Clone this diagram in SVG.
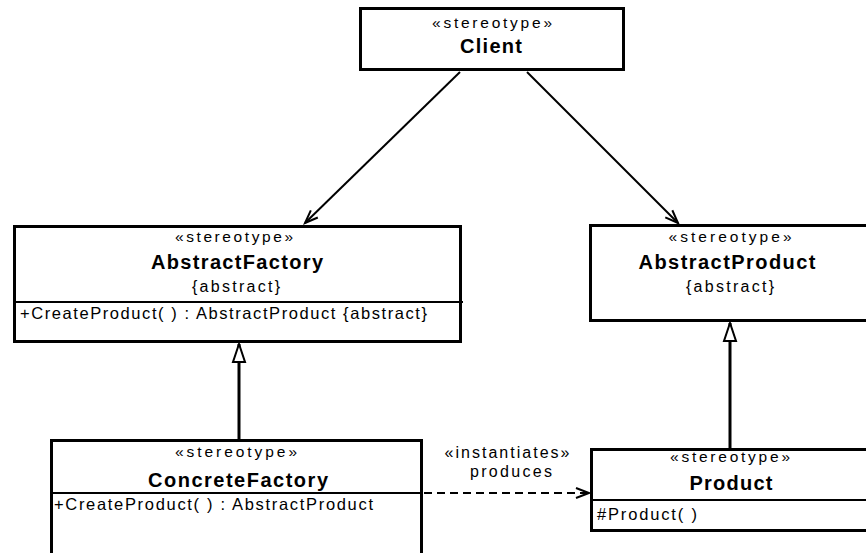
<svg xmlns="http://www.w3.org/2000/svg" width="866" height="553" viewBox="0 0 866 553">
<defs>
<style>
.box{fill:#fff;stroke:#000;stroke-width:3}
.div{stroke:#000;stroke-width:2}
.st{font-family:"Liberation Sans",Arial,sans-serif;font-size:15.5px;text-anchor:middle;fill:#000}
.nm{font-family:"Liberation Sans",Arial,sans-serif;font-size:20px;font-weight:bold;text-anchor:middle;fill:#000}
.ab{font-family:"Liberation Sans",Arial,sans-serif;font-size:16px;text-anchor:middle;fill:#000}
.op{font-family:"Liberation Sans",Arial,sans-serif;font-size:16.5px;fill:#000}
.lbl{font-family:"Liberation Sans",Arial,sans-serif;font-size:16px;text-anchor:middle;fill:#000}
.assoc{stroke:#000;stroke-width:2;fill:none}
.gen{stroke:#000;stroke-width:3;fill:none}
.dep{stroke:#000;stroke-width:2;fill:none;stroke-dasharray:8 5}
</style>
<marker id="open" markerUnits="userSpaceOnUse" markerWidth="20" markerHeight="20" viewBox="-16 -10 20 20" refX="0" refY="0" orient="auto">
<path d="M -13 -5 L 0 0 L -13 5" fill="none" stroke="#000" stroke-width="2"/>
</marker>
<marker id="tri" markerUnits="userSpaceOnUse" markerWidth="24" markerHeight="20" viewBox="-22 -10 24 20" refX="0" refY="0" orient="auto">
<path d="M 0 0 L -18 -6 L -18 6 Z" fill="#fff" stroke="#000" stroke-width="2"/>
</marker>
</defs>
<rect width="866" height="553" fill="#fff"/>

<g id="connectors">
<line class="assoc" x1="460" y1="72" x2="305" y2="223" marker-end="url(#open)"/>
<line class="assoc" x1="527" y1="72" x2="678" y2="223" marker-end="url(#open)"/>
<line class="gen" x1="239" y1="439" x2="239" y2="344" marker-end="url(#tri)"/>
<line class="gen" x1="730" y1="448" x2="730" y2="323" marker-end="url(#tri)"/>
<line class="dep" x1="424" y1="493" x2="589" y2="493" marker-end="url(#open)"/>
<text class="lbl" x="507" y="458" textLength="125" lengthAdjust="spacing">«instantiates»</text>
<text class="lbl" x="511" y="477" textLength="82" lengthAdjust="spacing">produces</text>
</g>

<g id="client">
<rect class="box" x="360.5" y="8.5" width="263" height="61"/>
<text class="st" x="492" y="28" textLength="120" lengthAdjust="spacing">«stereotype»</text>
<text class="nm" x="491" y="53" textLength="62" lengthAdjust="spacing">Client</text>
</g>

<g id="abstractfactory">
<rect class="box" x="14.5" y="226.5" width="446" height="115"/>
<line class="div" x1="14" y1="302" x2="463" y2="302"/>
<text class="st" x="234" y="242" textLength="118" lengthAdjust="spacing">«stereotype»</text>
<text class="nm" x="237" y="269" textLength="172" lengthAdjust="spacing">AbstractFactory</text>
<text class="ab" x="236" y="292" textLength="88" lengthAdjust="spacing">{abstract}</text>
<text class="op" x="20" y="319" textLength="407" lengthAdjust="spacing">+CreateProduct( ) : AbstractProduct {abstract}</text>
</g>

<g id="abstractproduct">
<rect class="box" x="590.5" y="225.5" width="290" height="95"/>
<text class="st" x="730" y="242" textLength="123" lengthAdjust="spacing">«stereotype»</text>
<text class="nm" x="727" y="269" textLength="177" lengthAdjust="spacing">AbstractProduct</text>
<text class="ab" x="730" y="292" textLength="88" lengthAdjust="spacing">{abstract}</text>
</g>

<g id="concretefactory">
<rect class="box" x="51.5" y="440.5" width="370" height="130"/>
<line class="div" x1="51" y1="493" x2="423" y2="493"/>
<text class="st" x="236" y="457" textLength="122" lengthAdjust="spacing">«stereotype»</text>
<text class="nm" x="238" y="487" textLength="180" lengthAdjust="spacing">ConcreteFactory</text>
<text class="op" x="54" y="510" textLength="319" lengthAdjust="spacing">+CreateProduct( ) : AbstractProduct</text>
</g>

<g id="product">
<rect class="box" x="591.5" y="449.5" width="290" height="81"/>
<line class="div" x1="591" y1="500" x2="870" y2="500"/>
<text class="st" x="730" y="462" textLength="120" lengthAdjust="spacing">«stereotype»</text>
<text class="nm" x="731" y="490" textLength="83" lengthAdjust="spacing">Product</text>
<text class="op" x="597" y="520" textLength="100" lengthAdjust="spacing">#Product( )</text>
</g>
</svg>
